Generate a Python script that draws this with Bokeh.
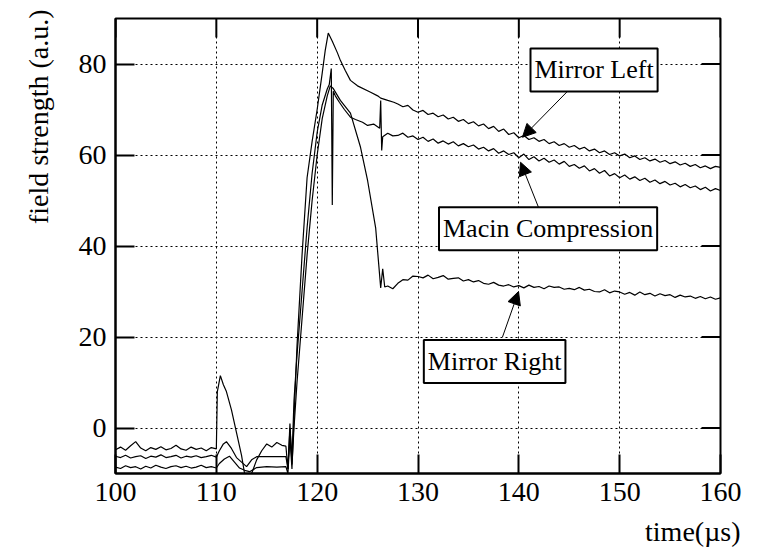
import math
from bokeh.plotting import figure
from bokeh.models import Range1d, Label, Arrow, NormalHead, FixedTicker, Title
from bokeh.embed import file_html
from bokeh.resources import INLINE

FONT = "Liberation Serif"

# shared time samples (µs)
t_early = [100.0, 100.5, 101.0, 101.5, 102.0, 102.5, 103.0, 103.5, 104.0, 104.5, 105.0,
           105.5, 106.0, 106.5, 107.0, 107.5, 108.0, 108.5, 109.0, 109.5, 110.0]
t_tail = [128.0, 128.5, 129.0, 129.5, 130.0, 130.5, 131.0, 131.5, 132.0, 132.5, 133.0,
          133.5, 134.0, 134.5, 135.0, 135.5, 136.0, 136.5, 137.0, 137.5, 138.0, 138.5,
          139.0, 139.5, 140.0, 140.5, 141.0, 141.5, 142.0, 142.5, 143.0, 143.5, 144.0,
          144.5, 145.0, 145.5, 146.0, 146.5, 147.0, 147.5, 148.0, 148.5, 149.0, 149.5,
          150.0, 150.5, 151.0, 151.5, 152.0, 152.5, 153.0, 153.5, 154.0, 154.5, 155.0,
          155.5, 156.0, 156.5, 157.0, 157.5, 158.0, 158.5, 159.0, 159.5, 160.0]

# Mirror Right
mr_early = [-4.8, -4.2, -4.9, -3.9, -3.0, -4.4, -5.0, -4.3, -4.7, -4.1, -4.8, -4.5, -3.8,
            -4.6, -4.9, -4.2, -4.7, -4.4, -5.0, -4.3, -4.6]
mr_mid_t = [110.1, 110.4, 110.7, 111.0, 111.5, 112.0, 112.5, 112.8, 113.5, 114.0, 114.5,
            115.0, 115.5, 116.0, 116.5, 116.9, 117.1, 117.3, 117.5, 117.7, 118.0, 118.5,
            119.0, 119.5, 120.0, 120.5, 121.0, 121.3, 121.6, 122.3, 123.3, 124.3, 125.0,
            125.8, 126.3, 126.5, 126.7, 127.0, 127.5]
mr_mid_y = [8, 11.5, 9.5, 8, 4, -1, -6, -10, -10, -7, -5, -3.5, -4.2, -3.2, -3.8, -4, -9, 1,
            -8, 0, 10, 24, 38, 50, 60, 68, 73, 75.2, 74.6, 72, 69.2, 61.7, 54.4, 44, 30.8,
            35, 31, 31.2, 30.6]
mr_tail = [31.8, 32.6, 32.5, 33.4, 33.3, 33.0, 33.6, 32.8, 33.1, 33.5, 32.7, 32.9, 33.0,
           32.3, 32.6, 32.1, 32.4, 31.8, 31.6, 32.0, 31.4, 31.2, 31.5, 31.0, 31.3, 30.8,
           31.4, 30.9, 31.1, 30.6, 31.2, 30.9, 31.0, 30.5, 30.7, 30.4, 30.9, 30.3, 30.5,
           30.0, 29.9, 30.4, 29.7, 30.1, 29.9, 29.4, 29.8, 29.2, 29.9, 29.3, 29.6, 29.0,
           29.5, 29.1, 29.3, 28.7, 29.2, 28.8, 29.0, 28.5, 28.9, 28.4, 28.8, 28.3, 28.6]

# Macin Compression
mc_early = [-6.2, -6.5, -6.0, -6.6, -6.3, -6.1, -6.7, -6.2, -6.4, -5.9, -6.5, -6.3, -6.0,
            -6.6, -6.2, -6.4, -6.1, -6.5, -6.3, -6.0, -6.4]
mc_mid_t = [110.3, 110.7, 111.0, 111.5, 112.0, 112.5, 113.0, 113.5, 114.0, 115.0, 116.0,
            116.9, 117.1, 117.3, 117.5, 117.7, 118.0, 118.5, 119.0, 119.5, 120.0, 120.5,
            121.0, 121.2, 121.4, 121.5, 121.6, 121.8, 122.2, 122.7, 123.3, 123.8, 124.5,
            125.0, 125.6, 126.2, 126.3, 126.4, 126.5, 127.0, 127.5]
mc_mid_y = [-5, -3.5, -3.0, -4.5, -6.5, -7.5, -8.5, -7, -6.3, -6.3, -6.3, -6.3, -9, 0, -7,
            6, 16, 30, 44, 56, 65, 71, 74.5, 75.5, 79, 49, 74, 73, 71.6, 70, 68.3, 67.8,
            67.2, 66.5, 66.8, 65.9, 72, 61, 64, 64.8, 64.2]
mc_tail = [64.3, 64.8, 63.9, 64.2, 63.4, 63.9, 63.0, 63.5, 62.6, 63.1, 62.4, 62.9, 62.0,
           62.5, 61.8, 62.2, 61.3, 61.7, 60.9, 61.4, 60.4, 60.9, 60.1, 60.5, 59.4, 60.2,
           59.0, 59.6, 58.7, 59.3, 58.4, 58.9, 58.0, 58.6, 57.5, 57.9, 57.1, 57.6, 56.5,
           57.0, 56.0, 56.6, 55.4, 55.9, 55.0, 55.6, 54.7, 55.2, 54.4, 54.9, 54.0, 54.5,
           53.7, 54.2, 53.4, 53.8, 53.0, 53.5, 52.8, 53.2, 52.4, 52.9, 52.1, 52.6, 52.2]

# Mirror Left
ml_early = [-8.6, -8.9, -8.3, -8.7, -8.5, -9.0, -8.4, -8.8, -8.2, -8.6, -8.9, -8.5, -8.3,
            -8.7, -8.4, -8.8, -8.6, -8.2, -8.7, -8.5, -8.8]
ml_mid_t = [110.3, 110.8, 111.3, 111.8, 112.3, 112.8, 113.3, 114.0, 115.0, 116.0, 116.9,
            117.1, 117.3, 117.5, 117.7, 118.0, 118.5, 119.0, 119.5, 120.0, 120.5, 120.8,
            121.1, 121.5, 122.0, 122.3, 122.8, 123.3, 124.0, 125.3, 126.0, 126.3, 127.0,
            127.6]
ml_mid_y = [-7.8, -6.8, -6.2, -7.5, -8.8, -9.3, -9.6, -8.7, -8.5, -8.6, -8.5, -10, -2, -9,
            2, 18, 38, 55, 63, 70, 78, 83, 86.8, 85, 82.5, 80.8, 78.5, 76.4, 75.2, 73.8,
            73.0, 72.5, 72.0, 71.6]
ml_tail = [71.2, 70.6, 70.9, 69.9, 69.4, 69.8, 68.9, 69.2, 68.4, 68.8, 67.9, 68.3, 67.4,
           67.8, 66.9, 67.3, 66.4, 66.8, 65.8, 66.3, 65.2, 65.7, 64.5, 64.9, 63.8, 64.3,
           63.4, 63.8, 63.0, 63.4, 62.5, 62.9, 62.1, 62.5, 61.7, 62.1, 61.3, 61.7, 60.9,
           61.3, 60.5, 60.9, 60.1, 60.5, 59.8, 60.2, 59.4, 59.8, 59.0, 59.4, 58.7, 59.1,
           58.4, 58.8, 58.1, 58.5, 57.8, 58.2, 57.5, 57.9, 57.2, 57.6, 57.0, 57.5, 57.3]

x_ticks = [100, 110, 120, 130, 140, 150, 160]
y_ticks = [0, 20, 40, 60, 80]
X_MIN, X_MAX = 100, 160
Y_MIN, Y_MAX = -10, 90

series = {
    "Mirror Right": (t_early + mr_mid_t + t_tail, mr_early + mr_mid_y + mr_tail),
    "Macin Compression": (t_early + mc_mid_t + t_tail, mc_early + mc_mid_y + mc_tail),
    "Mirror Left": (t_early + ml_mid_t + t_tail, ml_early + ml_mid_y + ml_tail),
}

# annotation boxes: (text, x, y) and arrows (tail x, tail y, head x, head y)
notes = [("Mirror Left", 147.46, 78.7), ("Macin Compression", 142.9, 43.8),
         ("Mirror Right", 137.6, 14.6)]
arrows = [(144.83, 74.0, 140.36, 63.9), (141.95, 48.5, 140.17, 58.4),
          (138.38, 20.0, 139.97, 30.0)]

p = figure(width=757, height=558, output_backend="svg", toolbar_location=None,
           x_range=Range1d(X_MIN, X_MAX), y_range=Range1d(Y_MIN, Y_MAX),
           min_border_left=115, min_border_right=37, min_border_top=18,
           min_border_bottom=85)
p.background_fill_color = "white"
p.border_fill_color = "white"
p.outline_line_color = "black"
p.outline_line_width = 2

for name, (xs, ys) in series.items():
    p.line(xs, ys, line_color="black", line_width=1.2)

for ax, ticks in ((p.xaxis[0], x_ticks), (p.yaxis[0], y_ticks)):
    ax.ticker = FixedTicker(ticks=ticks)
    ax.major_tick_in = 19
    ax.major_tick_out = 0
    ax.minor_tick_in = 0
    ax.minor_tick_out = 0
    ax.major_tick_line_width = 2
    ax.axis_line_width = 2
    ax.major_label_text_font = FONT
    ax.major_label_text_font_size = "28px"
    ax.major_label_text_color = "black"
    ax.major_label_standoff = 9

# inward ticks on the top and right edges
p.ray(x=x_ticks, y=[Y_MAX] * len(x_ticks), length=19, length_units="screen",
      angle=-math.pi / 2, line_color="black", line_width=2)
p.ray(x=[X_MAX] * len(y_ticks), y=y_ticks, length=19, length_units="screen",
      angle=math.pi, line_color="black", line_width=2)

for g in (p.xgrid[0], p.ygrid[0]):
    g.grid_line_color = "black"
    g.grid_line_dash = "2 3"
    g.grid_line_width = 1

# axis titles
p.add_layout(Title(text="time(µs)", align="right", text_font=FONT, text_font_size="28px",
                   text_font_style="normal", text_color="black", offset=-20,
                   standoff=21), "below")
p.add_layout(Title(text="field strength (a.u.)", align="right", text_font=FONT,
                   text_font_size="28px", text_font_style="normal", text_color="black",
                   offset=-9, standoff=40, vertical_align="top"), "left")

for (tx, ty, hx, hy) in arrows:
    p.add_layout(Arrow(x_start=tx, y_start=ty, x_end=hx, y_end=hy, line_width=1,
                       line_color="black",
                       end=NormalHead(size=13, fill_color="black", line_color="black",
                                      line_width=1)))

for text, x, y in notes:
    p.add_layout(Label(x=x, y=y, text=text, text_align="center", text_baseline="middle",
                       text_font=FONT, text_font_size="26px", text_color="black",
                       background_fill_color="white", border_line_color="black",
                       border_line_width=2, padding=(4, 7)))

open("out.html", "w").write(file_html(p, INLINE))
